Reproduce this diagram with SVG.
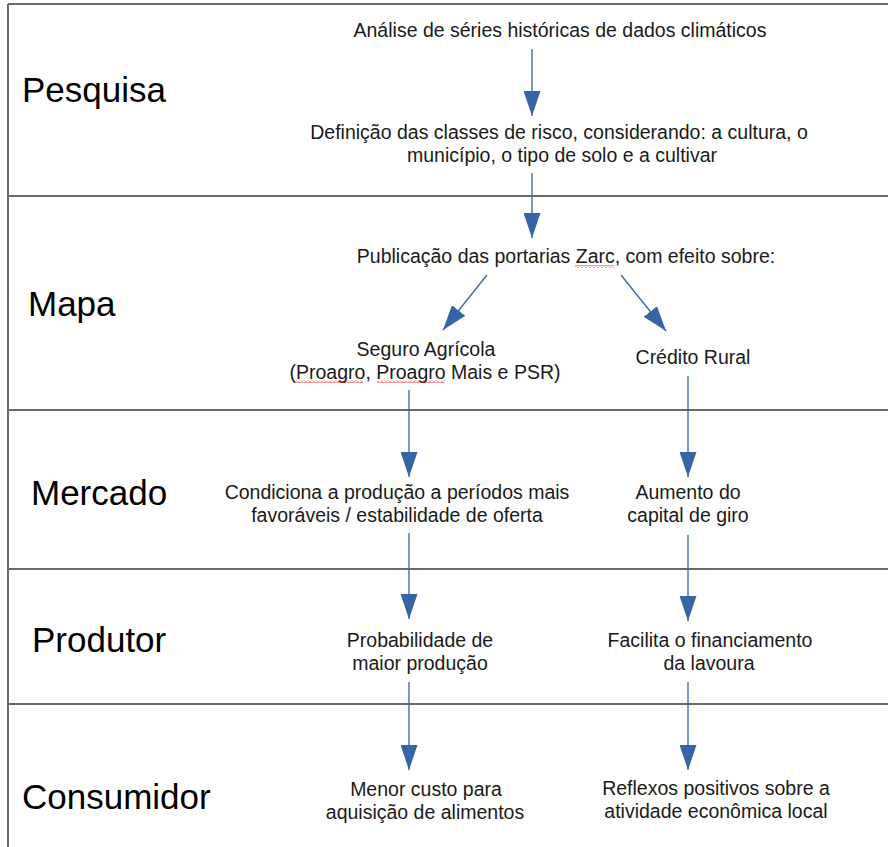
<svg xmlns="http://www.w3.org/2000/svg" width="888" height="847" viewBox="0 0 888 847">
<style>
.frame{stroke:#6a6a6a;stroke-width:2;fill:none}
.lbl{font-family:"Liberation Sans",Arial,sans-serif;font-size:35px;fill:#000}
.t{font-family:"Liberation Sans",Arial,sans-serif;font-size:19.5px;fill:#1a1a1a;text-anchor:middle}
.c{stroke:#3465a4;stroke-width:1.3;fill:none;marker-end:url(#ah)}
</style>
<defs>
<marker id="ah" viewBox="0 0 25 17" refX="25" refY="8.5" markerWidth="25" markerHeight="17" markerUnits="userSpaceOnUse" orient="auto">
<path d="M0,0 L25,8.5 L0,17 Z" fill="#3465a4"/>
</marker>
<pattern id="wave" x="0" y="0" width="4" height="3" patternUnits="userSpaceOnUse">
<polyline points="0,2.5 2,0.5 4,2.5" fill="none" stroke="#e02020" stroke-width="0.9"/>
</pattern>
</defs>
<rect width="888" height="847" fill="#fff"/>
<g id="frame">
<path class="frame" d="M8,4 H888 M8,4 V847 M8,196 H888 M8,410 H888 M8,569 H888 M8,704 H888"/>
</g>
<g id="lanes">
<text class="lbl" x="22" y="102">Pesquisa</text>
<text class="lbl" x="28" y="316">Mapa</text>
<text class="lbl" x="31" y="505">Mercado</text>
<text class="lbl" x="32" y="652">Produtor</text>
<text class="lbl" x="22" y="809">Consumidor</text>
</g>
<g id="connectors">
<line class="c" x1="532" y1="49" x2="532" y2="116"/>
<line class="c" x1="532" y1="173" x2="532" y2="238"/>
<line class="c" x1="487" y1="275" x2="443" y2="330"/>
<line class="c" x1="621" y1="275" x2="666" y2="331"/>
<line class="c" x1="409" y1="390" x2="409" y2="477"/>
<line class="c" x1="688" y1="376" x2="688" y2="477"/>
<line class="c" x1="409" y1="533" x2="409" y2="619"/>
<line class="c" x1="688" y1="535" x2="688" y2="621"/>
<line class="c" x1="409" y1="682" x2="409" y2="770"/>
<line class="c" x1="688" y1="682" x2="688" y2="770"/>
</g>
<g id="n-analise"><text class="t" x="560" y="37">Análise de séries históricas de dados climáticos</text></g>
<g id="n-definicao"><text class="t" x="559" y="139">Definição das classes de risco, considerando: a cultura, o</text><text class="t" x="562" y="162">município, o tipo de solo e a cultivar</text></g>
<g id="n-publicacao"><text class="t" x="566" y="263">Publicação das portarias Zarc, com efeito sobre:</text><rect x="575" y="265" width="39" height="3" fill="url(#wave)"/></g>
<g id="n-seguro"><text class="t" x="426" y="356">Seguro Agrícola</text><text class="t" x="425" y="379">(Proagro, Proagro Mais e PSR)</text><rect x="296" y="380" width="67" height="3" fill="url(#wave)"/><rect x="377" y="380" width="68" height="3" fill="url(#wave)"/></g>
<g id="n-credito"><text class="t" x="693" y="364">Crédito Rural</text></g>
<g id="n-condiciona"><text class="t" x="397" y="499">Condiciona a produção a períodos mais</text><text class="t" x="397" y="522">favoráveis / estabilidade de oferta</text></g>
<g id="n-aumento"><text class="t" x="688" y="499">Aumento do</text><text class="t" x="688" y="522">capital de giro</text></g>
<g id="n-probabilidade"><text class="t" x="420" y="647">Probabilidade de</text><text class="t" x="420" y="670">maior produção</text></g>
<g id="n-facilita"><text class="t" x="710" y="647">Facilita o financiamento</text><text class="t" x="709" y="670">da lavoura</text></g>
<g id="n-menor"><text class="t" x="426" y="796">Menor custo para</text><text class="t" x="425" y="819">aquisição de alimentos</text></g>
<g id="n-reflexos"><text class="t" x="716" y="795">Reflexos positivos sobre a</text><text class="t" x="716" y="818">atividade econômica local</text></g>
</svg>
